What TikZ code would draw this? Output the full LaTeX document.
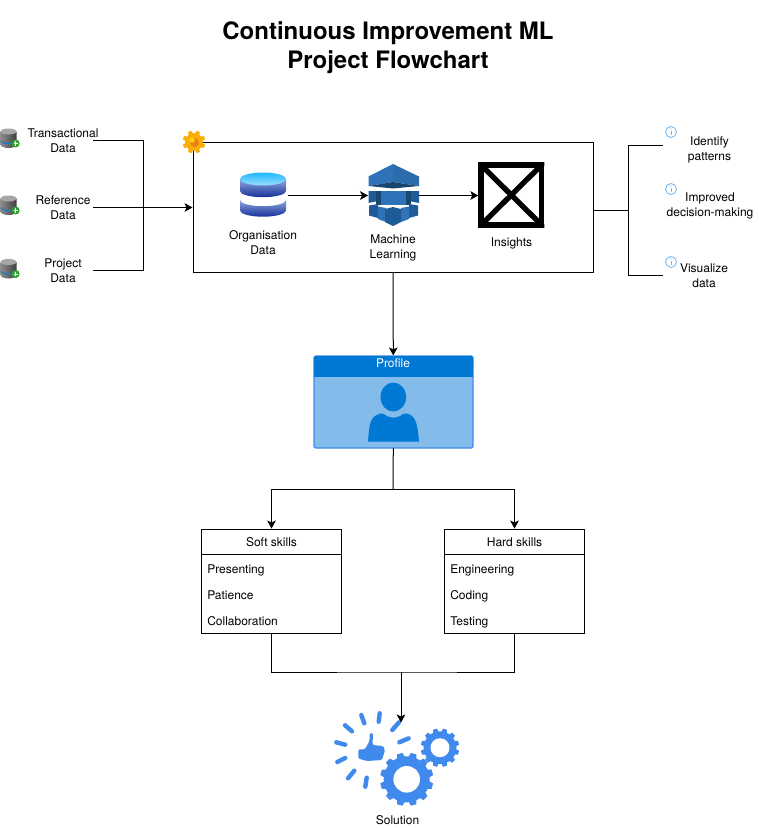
\documentclass[tikz,border=0pt]{standalone}
\usepackage{fontspec}
\setmainfont{TeX Gyre Heros}
\usetikzlibrary{arrows.meta}
\definecolor{iconblue}{HTML}{3F8AEC}
\definecolor{msblue}{HTML}{0078D4}
\definecolor{mslight}{HTML}{83BBEA}
\definecolor{mlA}{HTML}{2E73B8}
\definecolor{mlB}{HTML}{1A476F}
\definecolor{mlC}{HTML}{205B99}
\definecolor{infoblue}{HTML}{6DB5F5}
\definecolor{dbtop}{HTML}{1FB8FF}
\definecolor{dbmid}{HTML}{8FA8E0}
\definecolor{dbdark}{HTML}{16309A}
\tikzset{
  wire/.style={draw=black,line width=0.75pt},
  arrowwire/.style={wire,-{Stealth[length=6pt,width=6.5pt,inset=1.5pt]}},
  lbl/.style={inner sep=0pt,font=\fontsize{9}{11.25}\selectfont,align=center,text=black},
  titletext/.style={inner sep=0pt,font=\fontsize{18}{22}\selectfont\bfseries,align=center},
  boxnode/.style={draw=black,line width=0.75pt,inner sep=0pt,fill=none},
  ray/.style={draw=iconblue,line width=3.3pt,line cap=round},
}
\newcommand{\gearshape}[6]{%
  \fill[#6,shift={(#1,#2)}] (-90:#4)
   \foreach \i in {1,...,#5}{
     -- ({-90+360/#5*(\i-1)+360/#5*0.18}:#4)
     -- ({-90+360/#5*(\i-1)+360/#5*0.30}:#3)
     -- ({-90+360/#5*(\i-1)+360/#5*0.70}:#3)
     -- ({-90+360/#5*(\i-1)+360/#5*0.82}:#4)
     -- ({-90+360/#5*\i}:#4)
   } -- cycle;}
\newcommand{\dbicon}[1]{%
  \begin{scope}[shift={(0,#1)}]
    \shade[left color=black!45,right color=black!75] (0.5,-7) -- (0.5,6) arc[start angle=180,end angle=0,x radius=8,y radius=3.5] -- (16.5,-7) -- cycle;
    \fill[black!35] (8.5,-7) ellipse[x radius=8,y radius=3];
    \draw[cyan!60!blue,line width=0.8pt] (1,2) arc[start angle=180,end angle=30,x radius=7.5,y radius=3];
    \fill[green!55!black!80!white] (15.7,5) circle[radius=4];
    \draw[white,line width=0.7pt] (13.5,5) -- (17.9,5) (15.7,2.8) -- (15.7,7.2);
  \end{scope}}
\newcommand{\infoicon}[2]{%
  \draw[infoblue,line width=0.6pt,fill=white] (#1,#2) circle[radius=5.5];
  \fill[infoblue] (#1,#2-3) circle[radius=0.7];
  \draw[infoblue,line width=0.7pt] (#1,#2-1.2) -- (#1,#2+3.2);}
\begin{document}
\begin{tikzpicture}[x=0.75pt,y=-0.75pt]
\useasboundingbox (0,0) rectangle (758,828);
\fill[white] (0,0) rectangle (758,828);
% title
\node[titletext] (title) at (388,48) {Continuous Improvement ML\\Project Flowchart};
% main box
\node[boxnode,minimum width=300pt,minimum height=97.5pt] (main) at (393,207) {};
% gear
\gearshape{194}{142}{11.5}{8.8}{8}{orange!60!yellow!90!brown}
\fill[orange!70!brown] (194.5,142.5) circle[radius=4.5];
\fill[yellow!70!orange] (192,140) circle[radius=2.8];
% left sources
\dbicon{138.5}\dbicon{205.5}\dbicon{269}
\node[lbl] (src1) at (63,140.5) {Transactional\\Data};
\node[lbl] (src2) at (63,207.5) {Reference\\Data};
\node[lbl] (src3) at (63,270.5) {Project\\Data};
\coordinate (s1) at (93,140);
\coordinate (s2) at (93,207.5);
\coordinate (s3) at (93,270);
\coordinate (busL) at (143.5,207.5);
\draw[wire] (s1) -| (busL) (s3) -| (busL);
\draw[arrowwire] (s2) -- (main.west |- s2);
% organisation data
\shade[top color=dbmid,bottom color=dbdark] (240,200) -- (240,210.5) arc[start angle=180,end angle=0,x radius=23,y radius=6.2] -- (286,200) arc[start angle=0,end angle=180,x radius=23,y radius=6.2] -- cycle;
\shade[top color=dbmid,bottom color=dbdark] (240,179) -- (240,191) arc[start angle=180,end angle=0,x radius=23,y radius=6.2] -- (286,179) -- cycle;
\shade[top color=dbtop,bottom color=dbtop!45!white] (263,179) ellipse[x radius=23,y radius=6.5];
\coordinate (orgout) at (288,195.5);
\node[lbl] (org) at (263,243) {Organisation\\Data};
% machine learning icon
\fill[mlA] (368.5,176.5) -- (393,164) -- (393,182) -- (368.5,186) -- cycle;
\fill[mlA!85!mlB] (419,176.5) -- (393,164) -- (393,182) -- (419,186) -- cycle;
\fill[mlB] (368.5,186) -- (393,182) -- (419,186) -- (393,188.5) -- cycle;
\fill[mlC] (368.5,191) -- (378,191) -- (378,201) -- (368.5,203) -- cycle;
\fill[mlC] (409,191) -- (419,191) -- (419,203) -- (409,201) -- cycle;
\fill[mlB] (376,191) rectangle (381,205);
\fill[mlB] (406,191) rectangle (411,205);
\fill[mlA] (381,190.5) rectangle (406,205);
\fill[mlC] (369,205.5) -- (378,204) -- (378,218) -- (369,215.5) -- cycle;
\fill[mlC] (409,204) -- (418,205.5) -- (418,215.5) -- (409,218) -- cycle;
\fill[mlA] (378,206.5) -- (386,208) -- (386,222) -- (378,219) -- cycle;
\fill[mlA] (401,208) -- (409,206.5) -- (409,219) -- (401,222) -- cycle;
\fill[mlC] (385,209) -- (393,207) -- (401,209) -- (401,222) -- (393,226) -- (385,222) -- cycle;
\coordinate (mlin) at (368,195.5);
\coordinate (mlout) at (419,195.5);
\node[lbl] (ml) at (393,248) {Machine\\Learning};
% insights
\node[draw=black,line width=4pt,minimum width=45.5pt,minimum height=45pt,inner sep=0pt] (ins) at (511.3,195) {};
\begin{scope}
  \clip (ins.north west) rectangle (ins.south east);
  \draw[black,line width=4pt] (ins.north west) -- (ins.south east) (ins.north east) -- (ins.south west);
\end{scope}
\node[lbl] (inslbl) at (511.5,243.5) {Insights};
\draw[arrowwire] (orgout) -- (mlin);
\draw[arrowwire] (mlout) -- (ins.west |- mlout);
% right outputs
\coordinate (r0) at (593,210.5);
\coordinate (busR) at (628.5,210.5);
\coordinate (r1) at (663,145);
\coordinate (r3) at (663,275);
\draw[wire] (main.east |- r0) -- (busR);
\draw[wire] (r1) -| (busR) (r3) -| (busR);
\infoicon{671}{132}\infoicon{671}{189}\infoicon{671}{262}
\node[lbl] (o1) at (709.5,150) {Identify\\patterns};
\node[lbl] (o2) at (710,206) {Improved\\decision-making};
\node[lbl] (o3) at (704,275.5) {Visualize\\data};
% profile
\node[draw=none,minimum width=119.5pt,minimum height=69pt,inner sep=0pt] (profile) at (393.3,401.7) {};
\fill[mslight,draw=iconblue,line width=0.9pt,rounded corners=1.5pt] (314,356) rectangle (473,448);
\fill[msblue,rounded corners=1.5pt] (314,356) rectangle (473,370);
\fill[msblue] (314,365) rectangle (473,377);
\node[lbl,text=white] (ptitle) at (393,363) {Profile};
\fill[msblue] (393.3,397) ellipse[x radius=12.8,y radius=14.5];
\fill[msblue] (368,441.7) .. controls (369,430) and (369,420) .. (375,416) .. controls (380,413) and (382,413) .. (384,414) .. controls (390,419) and (397,419) .. (403,414) .. controls (405,413) and (408,413) .. (412,416) .. controls (417,420) and (418,430) .. (419,441.7) -- cycle;
\draw[arrowwire] (main.south) -- (profile.north);
% skills
\node[boxnode,minimum width=105pt,minimum height=78.4pt] (soft) at (271.5,581.3) {};
\node[boxnode,minimum width=105pt,minimum height=78.4pt] (hard) at (514.5,581.3) {};
\draw[wire] (soft.north west) ++(0,26) -- ++(140,0);
\draw[wire] (hard.north west) ++(0,26) -- ++(140,0);
\node[lbl] (softh) at (271.5,542) {Soft skills};
\node[lbl] (hardh) at (514.5,542) {Hard skills};
\node[lbl,anchor=base west] (s1t) at (207,573) {Presenting};
\node[lbl,anchor=base west] (s2t) at (207,599) {Patience};
\node[lbl,anchor=base west] (s3t) at (207,625) {Collaboration};
\node[lbl,anchor=base west] (h1t) at (450,573) {Engineering};
\node[lbl,anchor=base west] (h2t) at (450,599) {Coding};
\node[lbl,anchor=base west] (h3t) at (450,625) {Testing};
\coordinate (split) at (393,489);
\draw[wire] (profile.south) -- (split);
\draw[arrowwire] (split) -| (soft.north);
\draw[arrowwire] (split) -| (hard.north);
\coordinate (merge) at (401,672);
\draw[wire] (soft.south) |- (merge) -| (hard.south);
% solution icon
\draw[ray] (392.3,730) -- (399,722.3);
\draw[ray] (378.7,721.7) -- (379.7,713.3);
\draw[ray] (364.3,723.3) -- (361.3,715);
\draw[ray] (352,731.3) -- (345,725.3);
\draw[ray] (345.3,744.7) -- (336.3,742.3);
\draw[ray] (345.3,758) -- (337.3,762);
\draw[ray] (354.3,770.7) -- (348,778.3);
\draw[ray] (366.7,777.7) -- (365.3,786.7);
\draw[ray] (399.3,742.3) -- (408.7,738.3);
\coordinate (solin) at (401,722.5);
\draw[arrowwire] (merge) -- (solin);
\fill[iconblue,rounded corners=1pt] (358.3,749.3) -- (365,749.3) -- (369.5,741) -- (369.5,733.5) -- (373,733) -- (372.5,745) -- (383,746) -- (385,750) -- (382,760) -- (367,761) -- (358.3,758.5) -- cycle;
\gearshape{406.7}{779.3}{26.7}{23}{12}{iconblue}
\fill[white] (406.7,779.3) circle[radius=13.3];
\gearshape{440}{747.7}{19.3}{16.3}{12}{iconblue}
\fill[white] (440,747.7) circle[radius=9.5];
\node[lbl] (sol) at (397.5,820) {Solution};
\end{tikzpicture}
\end{document}
